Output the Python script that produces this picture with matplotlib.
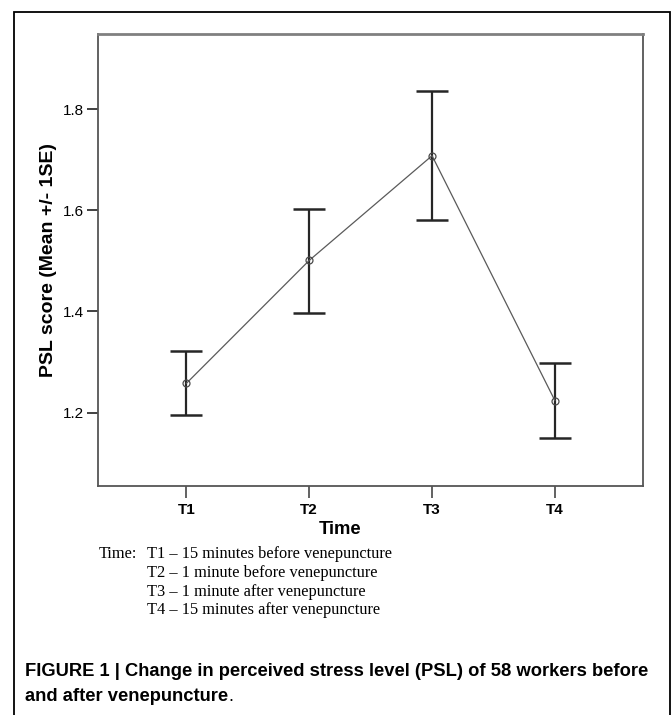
import matplotlib
matplotlib.use("Agg")
import matplotlib.pyplot as plt
from matplotlib.patches import Rectangle

categories = ["T1", "T2", "T3", "T4"]
means = [1.258, 1.501, 1.708, 1.224]
upper = [1.322, 1.603, 1.836, 1.298]
lower = [1.195, 1.398, 1.580, 1.149]
y_ticks = [1.2, 1.4, 1.6, 1.8]
notes = ["T1 \u2013 15 minutes before venepuncture",
         "T2 \u2013 1 minute before venepuncture",
         "T3 \u2013 1 minute after venepuncture",
         "T4 \u2013 15 minutes after venepuncture"]

W, H = 671, 715
fig = plt.figure(figsize=(W / 100, H / 100), dpi=100)
sans = ["Liberation Sans", "DejaVu Sans"]
serif = ["Liberation Serif", "DejaVu Serif"]

def fx(px):
    return px / W

def fy(py):
    return 1 - py / H

# outer frame
fig.patches.append(Rectangle((fx(13.5), -0.1), fx(670.3) - fx(13.5), fy(12.3) + 0.1,
                             transform=fig.transFigure, fill=False, edgecolor="black",
                             linewidth=1.3))

ax = fig.add_axes([fx(98), fy(486), fx(643.3) - fx(98), fy(34.3) - fy(486)])
x = list(range(1, len(categories) + 1))
yerr = [[m - l for m, l in zip(means, lower)], [u - m for u, m in zip(upper, means)]]
ax.errorbar(x, means, yerr=yerr, fmt="none", ecolor="#262626", elinewidth=1.6,
            capsize=11.2, capthick=1.8, zorder=2)
ax.plot(x, means, color="#5a5a5a", linewidth=0.9, marker="o", markersize=5,
        markerfacecolor="none", markeredgecolor="#4a4a4a", markeredgewidth=0.9, zorder=3)

ax.set_xlim(0.28, 4.72)
ax.set_ylim(1.055, 1.948)
ax.set_xticks(x)
ax.set_xticklabels(categories, fontfamily=sans, fontweight="bold", fontsize=11)
ax.set_yticks(y_ticks)
ax.set_yticklabels([f"{v:.1f}" for v in y_ticks], fontfamily=sans, fontsize=11)
ax.tick_params(axis="y", length=8, width=1.3, color="#333333", pad=2)
ax.tick_params(axis="x", length=8.5, width=1.3, color="#555555", pad=4)
for s in ["left", "bottom", "right"]:
    ax.spines[s].set_color("#555555")
    ax.spines[s].set_linewidth(1.3)
ax.spines["top"].set_color("#808080")
ax.spines["top"].set_linewidth(2.0)

fig.text(fx(340), fy(529.3), "Time", ha="center", va="center", fontfamily=sans,
         fontweight="bold", fontsize=13.3)
fig.text(fx(49), fy(260), "PSL score (Mean +/- 1SE)", ha="center", va="center",
         rotation=90, fontfamily=sans, fontweight="bold", fontsize=14)

# notes
fig.text(fx(98.3), fy(554), "Time:", ha="left", va="center", fontfamily=serif, fontsize=11.8)
note_y = [554, 572.7, 591.7, 610]
for t, yy in zip(notes, note_y):
    fig.text(fx(146.7), fy(yy), t, ha="left", va="center", fontfamily=serif, fontsize=11.8)

# caption
fig.text(fx(25), fy(671.7), "FIGURE 1 | Change in perceived stress level (PSL) of 58 workers before",
         ha="left", va="center", fontfamily=sans, fontweight="bold", fontsize=13.2)
t2 = fig.text(fx(25), fy(696.7), "and after venepuncture", ha="left", va="center",
              fontfamily=sans, fontweight="bold", fontsize=13.2)
fig.canvas.draw()
bb = t2.get_window_extent()
fig.text(bb.x1 / W, fy(696.7), ".", ha="left", va="center", fontfamily=sans, fontsize=13.2)

fig.savefig("out.png", dpi=100)
